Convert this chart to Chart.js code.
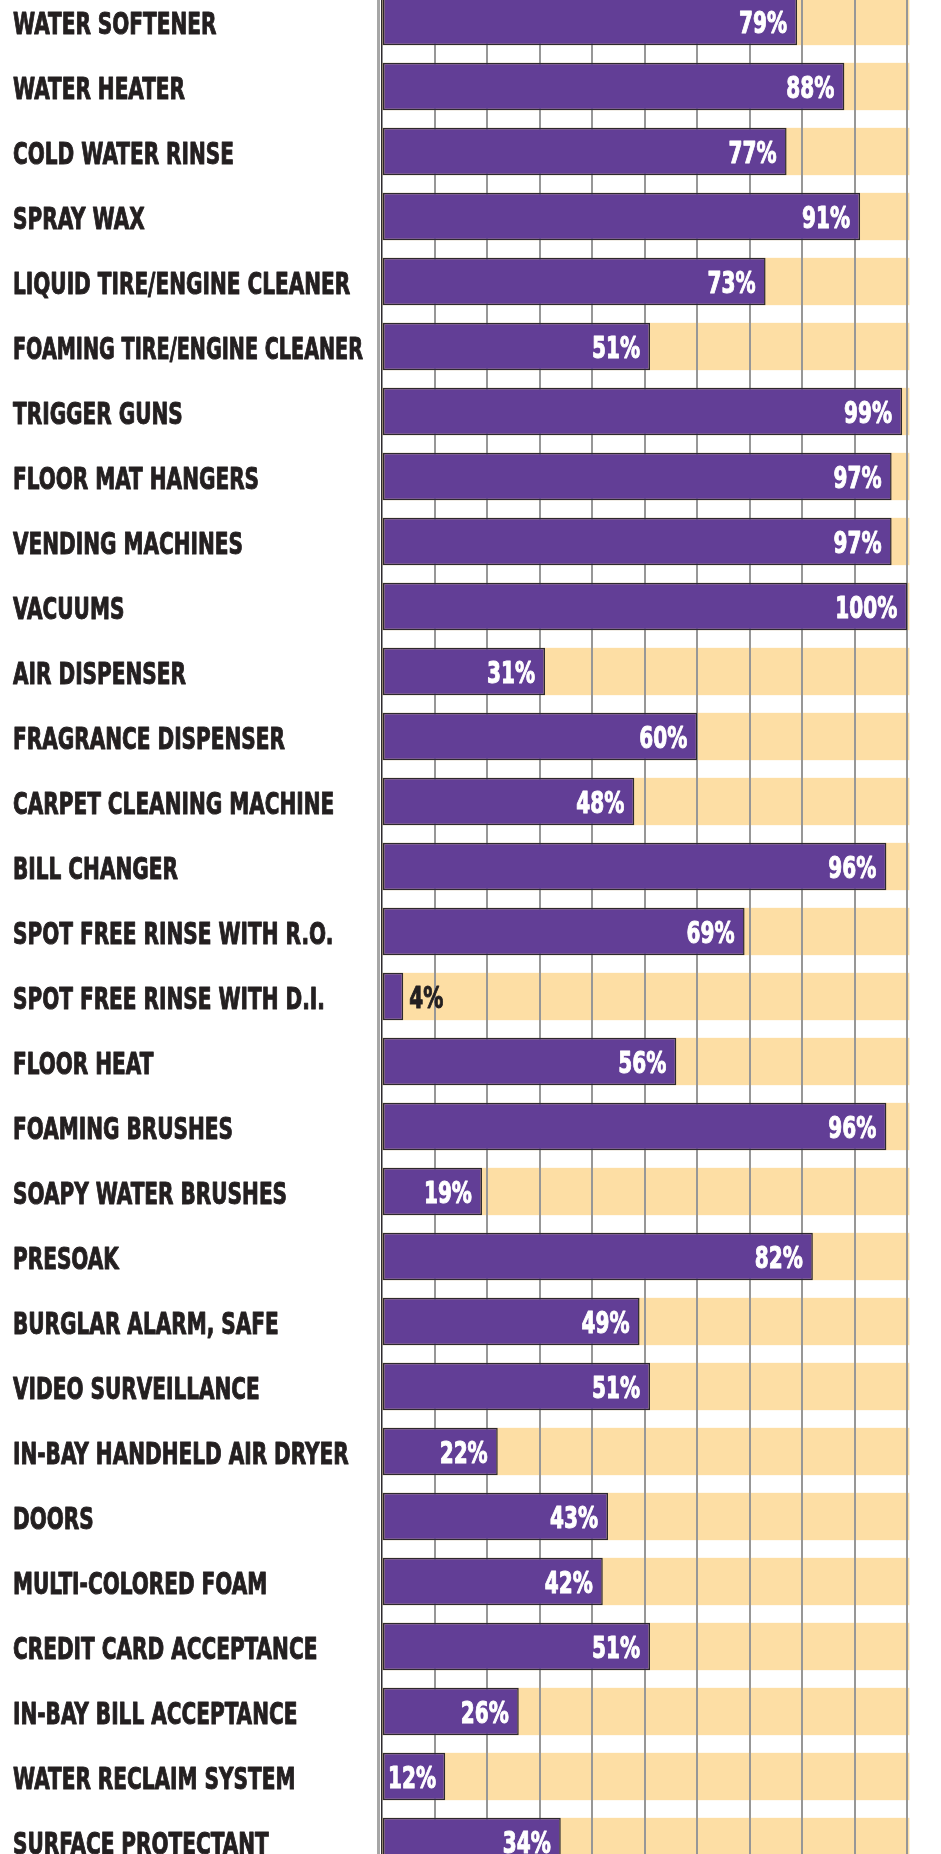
<!DOCTYPE html>
<html>
<head>
<meta charset="utf-8">
<script src="https://cdn.jsdelivr.net/npm/chart.js@4.4.1/dist/chart.umd.min.js"></script>
<style>
  html, body { margin: 0; padding: 0; background: #fff; overflow: hidden; }
  #wrap { position: absolute; left: 0; top: -12px; width: 941px; height: 1886px; }
</style>
</head>
<body>
<div id="wrap"><canvas id="chart"></canvas></div>
<script>
var categories = [
  "WATER SOFTENER",
  "WATER HEATER",
  "COLD WATER RINSE",
  "SPRAY WAX",
  "LIQUID TIRE/ENGINE CLEANER",
  "FOAMING TIRE/ENGINE CLEANER",
  "TRIGGER GUNS",
  "FLOOR MAT HANGERS",
  "VENDING MACHINES",
  "VACUUMS",
  "AIR DISPENSER",
  "FRAGRANCE DISPENSER",
  "CARPET CLEANING MACHINE",
  "BILL CHANGER",
  "SPOT FREE RINSE WITH R.O.",
  "SPOT FREE RINSE WITH D.I.",
  "FLOOR HEAT",
  "FOAMING BRUSHES",
  "SOAPY WATER BRUSHES",
  "PRESOAK",
  "BURGLAR ALARM, SAFE",
  "VIDEO SURVEILLANCE",
  "IN-BAY HANDHELD AIR DRYER",
  "DOORS",
  "MULTI-COLORED FOAM",
  "CREDIT CARD ACCEPTANCE",
  "IN-BAY BILL ACCEPTANCE",
  "WATER RECLAIM SYSTEM",
  "SURFACE PROTECTANT"
];

var percentages = [
  79, 88, 77, 91, 73, 51, 99, 97, 97, 100,
  31, 60, 48, 96, 69, 4, 56, 96, 19, 82,
  49, 51, 22, 43, 42, 51, 26, 12, 34
];

var gridTicks = [0, 10, 20, 30, 40, 50, 60, 70, 80, 90, 100];

// no narrow font installed, so condensed text is squeezed a bit more
var labelFont = "'DejaVu Sans Condensed', 'DejaVu Sans', sans-serif";
var squeeze = 0.72;

// peach band behind every row, under the grid lines
var rowBands = {
  id: "rowBands",
  beforeDraw: function (chart) {
    var ctx = chart.ctx;
    var x = chart.scales.x;
    var meta = chart.getDatasetMeta(0);
    var left = x.getPixelForValue(0);
    var right = x.getPixelForValue(100) + 2;
    ctx.save();
    ctx.fillStyle = "#fddea4";
    meta.data.forEach(function (bar) {
      ctx.fillRect(left, bar.y - bar.height / 2, right - left, bar.height);
    });
    ctx.restore();
  }
};

function squeezedText(ctx, txt, x, y, align, maxW) {
  var raw = ctx.measureText(txt).width;
  var sx = squeeze;
  if (maxW && raw * sx > maxW) sx = maxW / raw;
  var w = raw * sx;
  var start = align === "right" ? x - w : x;
  ctx.save();
  ctx.translate(start, y);
  ctx.scale(sx, 1);
  ctx.textAlign = "left";
  ctx.strokeText(txt, 0, 0);
  ctx.fillText(txt, 0, 0);
  ctx.restore();
  return w;
}

// category names on the left and percent labels at the bar ends
var textLabels = {
  id: "textLabels",
  afterDraw: function (chart) {
    var ctx = chart.ctx;
    var y = chart.scales.y;
    var meta = chart.getDatasetMeta(0);
    var left = chart.chartArea.left - 365;

    ctx.save();
    ctx.textBaseline = "alphabetic";
    ctx.lineJoin = "round";
    ctx.lineWidth = 1;
    ctx.font = "bold 31px " + labelFont;
    ctx.fillStyle = "#231f20";
    ctx.strokeStyle = "#231f20";
    categories.forEach(function (name, i) {
      squeezedText(ctx, name, left, y.getPixelForValue(i) + 12.5, "left", 350);
    });

    meta.data.forEach(function (bar, i) {
      var v = percentages[i];
      var txt = v + "%";
      var w = ctx.measureText(txt).width * squeeze;
      if (v >= 10) {
        ctx.fillStyle = "#ffffff";
        ctx.strokeStyle = "#ffffff";
        var right = Math.max(bar.x - 10, bar.base + 5 + w);
        squeezedText(ctx, txt, right, bar.y + 11, "right");
      } else {
        ctx.fillStyle = "#231f20";
        ctx.strokeStyle = "#231f20";
        squeezedText(ctx, txt, bar.x + 6, bar.y + 11, "left");
      }
    });
    ctx.restore();
  }
};

var chart = new Chart(document.getElementById("chart"), {
  type: "bar",
  data: {
    labels: categories,
    datasets: [
      {
        data: percentages,
        backgroundColor: "#623e96",
        borderColor: "#2d2a2e",
        borderWidth: 1.5,
        borderSkipped: false,
        barPercentage: 0.728,
        categoryPercentage: 1
      }
    ]
  },
  options: {
    indexAxis: "y",
    responsive: true,
    maintainAspectRatio: false,
    animation: false,
    layout: { padding: { left: 13, right: 31, top: 1, bottom: 0 } },
    plugins: {
      legend: { display: false },
      tooltip: { enabled: false }
    },
    scales: {
      x: {
        type: "linear",
        min: -0.8,
        max: 100.5,
        afterBuildTicks: function (scale) {
          scale.ticks = gridTicks.map(function (v) { return { value: v }; });
        },
        ticks: { display: false },
        border: { display: false },
        grid: {
          drawTicks: false,
          tickLength: 0,
          color: function (c) {
            return c.tick && c.tick.value === 0 ? "#2d2a2e" : "#979797";
          },
          lineWidth: function (c) {
            return c.tick && c.tick.value === 0 ? 1.5 : 2;
          }
        }
      },
      y: {
        type: "category",
        afterFit: function (scale) {
          scale.width = 365;
        },
        grid: { display: false, drawTicks: false },
        border: { display: true, color: "#a6a6a6", width: 3 },
        ticks: { display: false, autoSkip: false }
      }
    }
  },
  plugins: [rowBands, textLabels]
});
</script>
</body>
</html>
